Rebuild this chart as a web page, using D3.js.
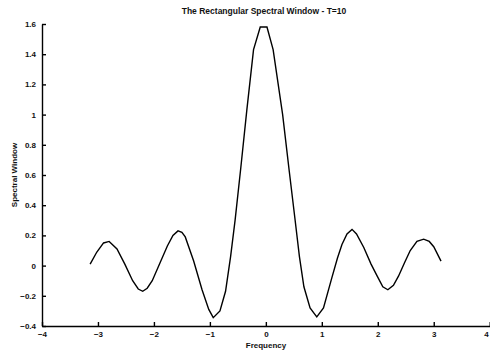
<!DOCTYPE html>
<meta charset="UTF-8">
<style>

    body {
        margin: 0;
        background: #fff;
    }

    .line {
        fill: none;
        stroke: #000;
        stroke-width: 1.4px;
    }

    .axis path, .axis line {
        stroke: #000;
        stroke-width: 1.4px;
    }

    .axis text, .label {
        font-family: "Liberation Sans", Arial, sans-serif;
        font-size: 8px;
        font-weight: bold;
        fill: #111;
    }

    .title {
        font-size: 8.5px;
    }

</style>

<body>

<!-- load the d3.js library -->
<script src="https://d3js.org/d3.v7.min.js"></script>

<script>

// frequency values
var freq = [
    -3.14, -3.02, -2.90, -2.80, -2.66, -2.52, -2.38, -2.28, -2.20, -2.12,
    -2.03, -1.90, -1.76, -1.66, -1.57, -1.50, -1.44, -1.29, -1.14, -1.02,
    -0.94, -0.82, -0.72, -0.63, -0.55, -0.45, -0.34, -0.22, -0.10, 0.02,
    0.13, 0.30, 0.42, 0.52, 0.60, 0.68, 0.79, 0.91, 1.03, 1.18,
    1.28, 1.36, 1.45, 1.54, 1.62, 1.75, 1.88, 1.99, 2.09, 2.18,
    2.28, 2.37, 2.48, 2.58, 2.70, 2.82, 2.92, 3.00, 3.13
];

// spectral window values
var windowVals = [
    0.01, 0.09, 0.15, 0.16, 0.11, 0.01, -0.10, -0.155, -0.17, -0.15,
    -0.10, 0.01, 0.13, 0.20, 0.23, 0.22, 0.19, 0.03, -0.16, -0.29,
    -0.345, -0.30, -0.17, 0.06, 0.30, 0.64, 1.03, 1.43, 1.58, 1.58,
    1.43, 1.00, 0.62, 0.31, 0.06, -0.14, -0.28, -0.34, -0.28, -0.08,
    0.05, 0.14, 0.21, 0.24, 0.21, 0.12, 0.01, -0.07, -0.14, -0.16,
    -0.13, -0.07, 0.02, 0.10, 0.16, 0.175, 0.16, 0.125, 0.03
];

var xTicks = [-4, -3, -2, -1, 0, 1, 2, 3, 4];
var yTicks = [-0.4, -0.2, 0, 0.2, 0.4, 0.6, 0.8, 1, 1.2, 1.4, 1.6];

var title = "The Rectangular Spectral Window - T=10";
var xTitle = "Frequency";
var yTitle = "Spectral Window";

// set the dimensions and margins of the graph
var margin = {top: 24, right: 0, bottom: 27, left: 42},
    width = 490 - margin.left - margin.right,
    height = 353 - margin.top - margin.bottom;

// set the ranges
var x = d3.scaleLinear().domain([-4, 4]).range([0, width - 0.3]);
var y = d3.scaleLinear().domain([-0.4, 1.6]).range([height, 0]);

var data = freq.map(function(f, i) { return {f: f, v: windowVals[i]}; });

var valueline = d3.line()
    .x(function(d) { return x(d.f); })
    .y(function(d) { return y(d.v); });

var svg = d3.select("body").append("svg")
    .attr("width", 490)
    .attr("height", 353)
  .append("g")
    .attr("transform", "translate(" + margin.left + "," + margin.top + ")");

// the curve
svg.append("path")
    .data([data])
    .attr("class", "line")
    .attr("d", valueline);

// X axis, ticks pointing up into the plot
var xAxis = svg.append("g")
    .attr("class", "axis")
    .attr("transform", "translate(0," + height + ")")
    .call(d3.axisBottom(x).tickValues(xTicks).tickSizeInner(-4).tickSizeOuter(0)
        .tickPadding(5).tickFormat(d3.format("d")));

// last label sits on the right edge, keep it inside
xAxis.selectAll(".tick text")
    .filter(function(d) { return d === 4; })
    .attr("text-anchor", "end")
    .attr("dx", -1.5);

// Y axis, ticks pointing right into the plot
svg.append("g")
    .attr("class", "axis")
    .call(d3.axisLeft(y).tickValues(yTicks).tickSizeInner(-4).tickSizeOuter(0)
        .tickPadding(6).tickFormat(function(d) { return d3.format("")(+d.toFixed(1)); }));

// title
svg.append("text")
    .attr("class", "label title")
    .attr("x", width / 2 - 2)
    .attr("y", -13)
    .attr("dy", "0.35em")
    .attr("text-anchor", "middle")
    .text(title);

// x label
svg.append("text")
    .attr("class", "label")
    .attr("x", width / 2)
    .attr("y", height + 19)
    .attr("dy", "0.35em")
    .attr("text-anchor", "middle")
    .text(xTitle);

// y label
svg.append("text")
    .attr("class", "label")
    .attr("transform", "rotate(-90)")
    .attr("x", -height / 2)
    .attr("y", -28)
    .attr("dy", "0.35em")
    .attr("text-anchor", "middle")
    .text(yTitle);

</script>

</body>
